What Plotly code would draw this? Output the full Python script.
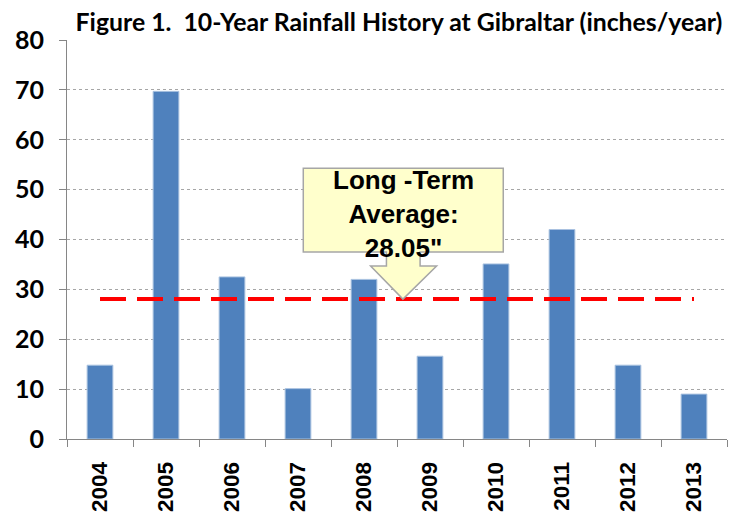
import plotly.graph_objects as go

years = ["2004", "2005", "2006", "2007", "2008", "2009", "2010", "2011", "2012", "2013"]
rainfall = [14.8, 69.7, 32.5, 10.1, 32.0, 16.6, 35.1, 42.0, 14.8, 9.0]
long_term_avg = 28.05
title_text = "Figure 1.  10-Year Rainfall History at Gibraltar (inches/year)"
callout_text = "Long -Term<br>Average:<br>28.05\""

fig = go.Figure()
fig.add_trace(go.Bar(
    x=years, y=rainfall,
    marker=dict(color="#4F81BD", line=dict(color="#A9C2E0", width=1)),
    showlegend=False,
))
fig.add_trace(go.Scatter(
    x=[years[0], years[-1]], y=[long_term_avg, long_term_avg],
    mode="lines", line=dict(color="#FF0000", width=4, dash="26px,11px"),
    showlegend=False,
))

# callout box with down arrow (data coordinates; category index on x)
bx0, bx1, by0, by1 = 3.08, 6.11, 37.5, 54.3
sx0, sx1, hy = 4.34, 4.85, 34.7
hx0, hx1, tipx = 4.10, 5.10, 4.59
path = (f"M {bx0},{by1} L {bx1},{by1} L {bx1},{by0} L {sx1},{by0} L {sx1},{hy} "
        f"L {hx1},{hy} L {tipx},{long_term_avg} L {hx0},{hy} L {sx0},{hy} L {sx0},{by0} "
        f"L {bx0},{by0} Z")
fig.add_shape(type="path", path=path, xref="x", yref="y",
              fillcolor="#FFFFCC", line=dict(color="#A6A6A6", width=1.5), layer="above")
fig.add_annotation(x=4.6, y=45.2, xref="x", yref="y", text=callout_text, showarrow=False,
                   font=dict(family="Liberation Sans, Arial", size=26, color="black", weight="bold"),
                   align="center")

# page body has an 8px margin, so the figure is sized/offset to compensate
W, H = 731, 507
fig.update_layout(
    width=W, height=H,
    margin=dict(l=59, r=12, t=32, b=76, autoexpand=False),
    paper_bgcolor="white", plot_bgcolor="white",
    bargap=0.61,
    title=dict(text=title_text, x=391 / W, xref="container", xanchor="center",
               y=1 - 14 / H, yref="container", yanchor="middle",
               font=dict(family="Lato, Open Sans", size=24.8, color="black", weight="bold")),
)
fig.update_xaxes(
    type="category", showline=True, linecolor="#868686", linewidth=1,
    ticks="outside", ticklen=7, tickcolor="#868686", tickson="boundaries",
    tickangle=-90, showgrid=False, automargin=False,
    tickfont=dict(family="Liberation Sans, Arial", size=22.5, color="black", weight="bold"),
    ticklabelstandoff=13,
)
fig.update_yaxes(
    range=[0, 80], dtick=10, showline=True, linecolor="#868686", linewidth=1,
    ticks="outside", ticklen=7, tickcolor="#868686",
    showgrid=True, gridcolor="#A6A6A6", griddash="dot", gridwidth=1,
    zeroline=False, automargin=False,
    tickfont=dict(family="Lato, Open Sans", size=25, color="black", weight="bold"),
    ticklabelstandoff=10,
)
fig.write_html("out.html")
